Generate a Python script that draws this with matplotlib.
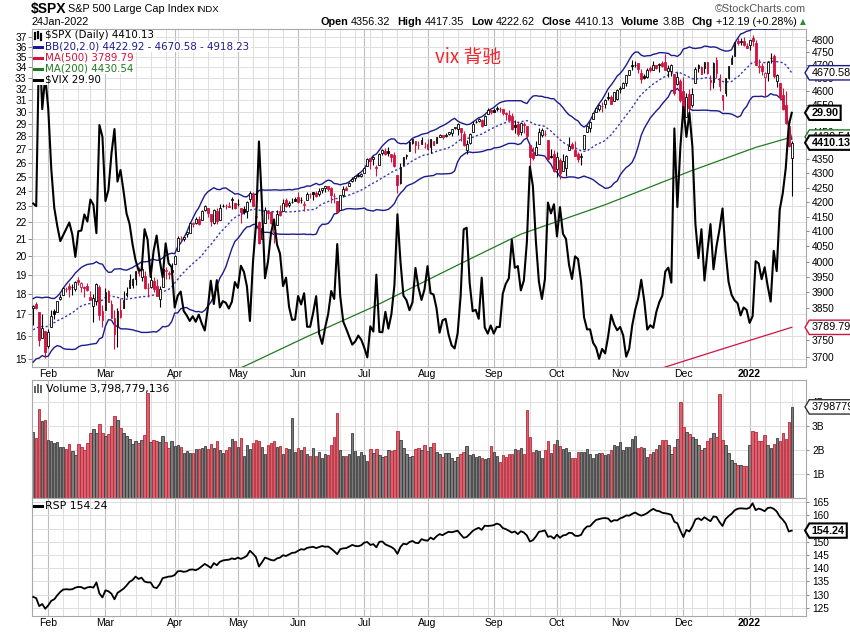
import numpy as np
import pandas as pd
import matplotlib
matplotlib.use("Agg")
import matplotlib.pyplot as plt
from matplotlib.path import Path
from matplotlib.lines import Line2D
from matplotlib.patches import Rectangle
from matplotlib.ticker import FixedLocator, FixedFormatter, NullLocator

W, H = 850, 633
RED = '#d3123e'
NAVY = '#1b1b8f'
GREEN = '#217a21'
GRID = '#dedede'
MONTH_GRID = '#bdbdbd'
ARIAL = 'Liberation Sans'

# trading days 25 Jan 2021 .. 24 Jan 2022
HOLIDAYS = ['2021-02-15', '2021-04-02', '2021-05-31', '2021-07-05',
            '2021-09-06', '2021-11-25', '2021-12-24', '2022-01-17']

# 19 closes before the window, BB(20) needs them
spx_close_prior = [3703.06, 3735.36, 3727.04, 3732.04, 3756.07, 3700.65, 3726.86, 3748.14, 3803.79, 3824.68,
                   3799.61, 3801.19, 3809.84, 3795.54, 3768.25, 3798.91, 3851.85, 3853.07, 3841.47]

spx_open = [
    3851.68, 3862.96, 3836.83, 3755.75, 3778.05,
    3731.17, 3791.84, 3840.27, 3836.66, 3878.30, 3892.59, 3910.49, 3920.78, 3916.40, 3911.65, 3939.61, 3918.50, 3915.86, 3921.16, 3885.55, 3857.07, 3873.71, 3915.80, 3839.66,
    3842.51, 3903.64, 3863.99, 3818.53, 3793.58, 3844.39, 3851.93, 3891.99, 3915.54, 3924.52, 3942.96, 3973.59, 3949.57, 3953.50, 3913.14, 3916.48, 3937.60, 3919.93, 3879.34, 3917.12, 3969.31, 3963.34, 3967.25,
    3992.78, 4034.44, 4075.57, 4074.29, 4089.95, 4096.11, 4124.71, 4130.10, 4141.58, 4139.76, 4174.14, 4179.80, 4159.18, 4128.42, 4170.46, 4138.78, 4185.03, 4188.25, 4185.14, 4206.14, 4198.10,
    4191.98, 4179.04, 4177.06, 4169.14, 4210.34, 4228.29, 4150.34, 4130.55, 4074.99, 4129.58, 4169.92, 4165.94, 4098.45, 4121.97, 4168.61, 4170.16, 4205.94, 4191.59, 4201.94, 4210.77,
    4216.52, 4206.82, 4191.43, 4206.05, 4229.34, 4233.81, 4232.99, 4228.56, 4242.90, 4248.31, 4255.28, 4248.87, 4220.37, 4204.78, 4173.40, 4224.61, 4249.27, 4256.97, 4274.45, 4284.90, 4293.21, 4290.65,
    4300.73, 4326.60, 4356.46, 4351.01, 4321.07, 4329.38, 4372.41, 4381.07, 4380.11, 4369.02, 4367.43, 4296.40, 4265.11, 4331.13, 4361.27, 4381.20, 4409.58, 4416.38, 4402.95, 4403.59, 4395.12,
    4406.86, 4392.74, 4415.95, 4408.86, 4429.07, 4437.77, 4435.79, 4442.18, 4446.08, 4464.84, 4461.65, 4462.12, 4440.94, 4382.44, 4410.56, 4450.29, 4484.40, 4490.45, 4493.75, 4474.10, 4513.76, 4529.75,
    4528.80, 4534.48, 4532.42, 4535.38, 4518.09, 4513.02, 4506.92, 4474.81, 4479.33, 4447.49, 4477.09, 4469.74, 4402.95, 4374.45, 4367.43, 4406.75, 4438.04, 4442.12, 4419.54, 4362.41, 4370.67,
    4317.16, 4348.84, 4309.87, 4319.57, 4383.73, 4406.51, 4385.44, 4368.31, 4358.01, 4386.75, 4447.69, 4463.72, 4497.34, 4524.42, 4532.24, 4546.12, 4553.69, 4578.69, 4580.22, 4562.84, 4572.87,
    4610.62, 4613.34, 4630.65, 4662.93, 4699.26, 4701.48, 4707.25, 4670.26, 4659.39, 4655.24, 4689.30, 4679.42, 4701.50, 4700.72, 4708.44, 4712.00, 4678.48, 4675.78, 4664.63, 4628.75, 4640.25,
    4602.82, 4504.73, 4589.49, 4548.37, 4631.97, 4690.86, 4691.00, 4687.64, 4710.30, 4642.99, 4636.46, 4719.13, 4652.50, 4587.90, 4594.96, 4650.36, 4703.96, 4733.99, 4795.49, 4788.64, 4794.23, 4775.21,
    4778.14, 4804.51, 4787.99, 4693.39, 4697.66, 4655.34, 4669.14, 4728.59, 4733.56, 4637.99, 4632.24, 4588.03, 4547.35, 4471.38, 4356.32,
]
spx_high = [
    3859.23, 3870.90, 3836.83, 3830.50, 3778.05,
    3784.32, 3843.09, 3847.51, 3872.42, 3894.56, 3915.77, 3918.35, 3931.50, 3925.99, 3937.23, 3950.43, 3933.61, 3921.98, 3930.41, 3902.92, 3895.98, 3928.65, 3925.02, 3861.08,
    3914.50, 3906.41, 3874.47, 3843.67, 3851.69, 3881.06, 3903.76, 3917.35, 3960.27, 3944.99, 3970.08, 3981.04, 3983.87, 3969.62, 3930.12, 3955.31, 3949.13, 3942.08, 3919.54, 3978.19, 3981.83, 3968.01, 3994.41,
    4020.63, 4083.42, 4086.23, 4083.13, 4098.19, 4129.48, 4131.76, 4148.00, 4151.69, 4173.49, 4191.31, 4180.81, 4159.18, 4175.02, 4179.57, 4194.17, 4194.19, 4193.35, 4201.53, 4218.78, 4198.10,
    4209.39, 4179.04, 4187.72, 4202.70, 4238.04, 4236.39, 4162.04, 4134.73, 4131.58, 4183.13, 4171.92, 4169.15, 4116.93, 4172.80, 4188.72, 4209.52, 4213.42, 4202.61, 4213.38, 4218.36,
    4234.12, 4217.37, 4204.39, 4233.45, 4232.34, 4236.74, 4237.09, 4249.74, 4248.38, 4255.59, 4257.16, 4251.89, 4232.29, 4204.78, 4226.24, 4255.84, 4256.60, 4271.28, 4286.12, 4292.14, 4300.52, 4302.43,
    4320.66, 4355.43, 4356.46, 4361.88, 4330.88, 4371.60, 4386.68, 4392.37, 4393.68, 4369.02, 4375.09, 4296.40, 4336.84, 4359.70, 4369.87, 4415.18, 4422.73, 4416.38, 4415.47, 4429.97, 4412.25,
    4422.18, 4423.79, 4416.17, 4429.76, 4440.82, 4439.39, 4445.21, 4449.44, 4461.77, 4468.37, 4480.26, 4462.12, 4454.32, 4418.61, 4444.35, 4489.88, 4492.81, 4501.71, 4495.90, 4513.33, 4537.36, 4531.39,
    4537.11, 4545.85, 4541.45, 4535.38, 4521.79, 4529.90, 4520.47, 4492.99, 4485.68, 4486.87, 4485.87, 4471.52, 4402.95, 4394.87, 4416.75, 4465.40, 4463.12, 4457.30, 4419.54, 4385.57, 4382.55,
    4375.19, 4355.51, 4369.23, 4365.57, 4429.97, 4412.02, 4415.88, 4374.89, 4372.87, 4439.73, 4475.82, 4488.75, 4520.40, 4540.87, 4551.44, 4559.67, 4572.62, 4598.53, 4584.57, 4597.55, 4608.08,
    4620.34, 4635.15, 4663.46, 4683.00, 4718.50, 4714.92, 4708.53, 4684.85, 4664.55, 4688.47, 4697.42, 4714.95, 4701.50, 4708.80, 4717.75, 4743.83, 4699.39, 4702.87, 4664.63, 4672.95, 4646.02,
    4652.94, 4595.46, 4608.03, 4612.60, 4694.04, 4705.06, 4695.26, 4713.57, 4710.30, 4660.47, 4712.60, 4731.99, 4666.70, 4587.90, 4651.14, 4697.67, 4740.74, 4791.49, 4807.02, 4804.06, 4808.93, 4786.83,
    4796.64, 4818.62, 4797.70, 4725.01, 4707.95, 4673.02, 4714.13, 4748.83, 4744.13, 4665.13, 4632.24, 4611.55, 4602.11, 4494.52, 4417.35,
]
spx_low = [
    3797.16, 3847.78, 3732.48, 3755.75, 3694.12,
    3725.62, 3791.84, 3816.68, 3836.66, 3874.93, 3892.59, 3902.64, 3884.94, 3890.39, 3905.78, 3923.85, 3900.43, 3885.03, 3903.07, 3874.71, 3805.59, 3859.60, 3814.04, 3789.54,
    3842.51, 3868.57, 3818.86, 3723.34, 3730.19, 3819.25, 3851.93, 3885.73, 3915.54, 3915.21, 3923.54, 3953.44, 3935.74, 3910.86, 3886.75, 3914.16, 3901.57, 3888.85, 3853.50, 3917.12, 3943.25, 3944.35, 3966.98,
    3992.78, 4034.44, 4068.14, 4068.31, 4082.54, 4095.51, 4114.82, 4124.43, 4120.87, 4139.76, 4170.75, 4150.47, 4118.38, 4126.35, 4123.69, 4138.78, 4182.36, 4176.22, 4181.78, 4176.81, 4174.85,
    4188.03, 4128.59, 4160.94, 4147.33, 4201.64, 4188.13, 4111.53, 4056.88, 4074.99, 4129.58, 4142.69, 4125.99, 4061.41, 4121.97, 4151.72, 4170.16, 4182.52, 4184.11, 4197.78, 4203.57,
    4197.59, 4198.27, 4167.93, 4206.05, 4215.66, 4208.41, 4218.74, 4220.34, 4232.25, 4234.07, 4238.35, 4195.99, 4196.05, 4164.40, 4173.40, 4217.27, 4241.43, 4256.97, 4271.16, 4274.67, 4287.04, 4287.96,
    4300.73, 4326.60, 4314.37, 4329.79, 4289.37, 4329.38, 4364.03, 4366.92, 4362.36, 4340.70, 4322.53, 4233.13, 4262.05, 4331.13, 4350.06, 4381.20, 4405.45, 4372.51, 4387.01, 4403.59, 4389.65,
    4384.81, 4373.00, 4400.23, 4408.86, 4429.07, 4424.74, 4430.03, 4436.42, 4435.96, 4460.82, 4437.66, 4417.83, 4397.59, 4367.73, 4406.80, 4450.29, 4482.28, 4485.66, 4468.99, 4474.10, 4513.76, 4515.80,
    4522.02, 4524.66, 4521.94, 4513.00, 4493.95, 4492.07, 4457.66, 4445.70, 4435.46, 4438.37, 4443.80, 4427.76, 4305.91, 4347.96, 4367.43, 4406.75, 4430.27, 4436.19, 4346.33, 4355.08, 4306.24,
    4288.52, 4278.94, 4309.87, 4290.49, 4383.73, 4386.22, 4360.59, 4342.09, 4329.92, 4386.75, 4447.69, 4447.47, 4496.41, 4524.40, 4526.89, 4524.00, 4537.36, 4569.17, 4551.66, 4562.84, 4567.59,
    4595.06, 4613.34, 4621.19, 4662.59, 4681.32, 4694.39, 4670.87, 4630.86, 4648.31, 4650.77, 4672.86, 4679.42, 4684.41, 4672.78, 4694.22, 4682.17, 4652.66, 4659.89, 4585.43, 4625.26, 4560.00,
    4510.27, 4504.73, 4495.12, 4540.51, 4631.97, 4674.52, 4665.98, 4670.24, 4667.60, 4606.52, 4611.22, 4651.89, 4600.22, 4531.10, 4583.16, 4645.53, 4703.96, 4733.99, 4780.04, 4778.08, 4775.33, 4765.75,
    4758.17, 4774.27, 4699.44, 4671.26, 4662.74, 4582.24, 4638.27, 4706.71, 4650.29, 4614.75, 4568.70, 4530.20, 4477.95, 4395.34, 4222.62,
]
spx_close = [
    3855.36, 3849.62, 3750.77, 3787.38, 3714.24,
    3773.86, 3826.31, 3830.17, 3871.74, 3886.83, 3915.59, 3911.23, 3909.88, 3916.38, 3934.83, 3932.59, 3931.33, 3913.97, 3906.71, 3876.50, 3881.37, 3925.43, 3829.34, 3811.15,
    3901.82, 3870.29, 3819.72, 3768.47, 3841.94, 3821.35, 3875.44, 3898.81, 3939.34, 3943.34, 3968.94, 3962.71, 3974.12, 3915.46, 3913.10, 3940.59, 3910.52, 3889.14, 3909.52, 3974.54, 3971.09, 3958.55, 3972.89,
    4019.87, 4077.91, 4073.94, 4079.95, 4097.17, 4128.80, 4127.99, 4141.59, 4124.66, 4170.42, 4185.47, 4163.26, 4134.94, 4173.42, 4134.98, 4180.17, 4187.62, 4186.72, 4183.18, 4211.47, 4181.17,
    4192.66, 4164.66, 4167.59, 4201.62, 4232.60, 4188.43, 4152.10, 4063.04, 4112.50, 4173.85, 4163.29, 4127.83, 4115.68, 4159.12, 4155.86, 4197.05, 4188.13, 4195.99, 4200.88, 4204.11,
    4202.04, 4208.12, 4192.85, 4229.89, 4226.52, 4227.26, 4219.55, 4239.18, 4247.44, 4255.15, 4246.59, 4223.70, 4221.86, 4166.45, 4224.79, 4246.44, 4241.84, 4266.49, 4280.70, 4290.61, 4291.80, 4297.50,
    4319.94, 4352.34, 4343.54, 4358.13, 4320.82, 4369.55, 4384.63, 4369.21, 4374.30, 4360.03, 4327.16, 4258.49, 4323.06, 4358.69, 4367.48, 4411.79, 4422.30, 4401.46, 4400.64, 4419.15, 4395.26,
    4387.16, 4423.15, 4402.66, 4429.10, 4436.52, 4432.35, 4436.75, 4447.70, 4460.83, 4468.00, 4479.71, 4448.08, 4400.27, 4405.80, 4441.67, 4479.53, 4486.23, 4496.19, 4470.00, 4509.37, 4528.79, 4522.68,
    4524.09, 4536.95, 4535.43, 4520.03, 4514.07, 4493.28, 4458.58, 4468.73, 4443.05, 4480.70, 4473.75, 4432.99, 4357.73, 4354.19, 4395.64, 4448.98, 4455.48, 4443.11, 4352.63, 4359.46, 4307.54,
    4357.04, 4300.46, 4345.72, 4363.55, 4399.76, 4391.34, 4361.19, 4350.65, 4363.80, 4438.26, 4471.37, 4486.46, 4519.63, 4536.19, 4549.78, 4544.90, 4566.48, 4574.79, 4551.68, 4596.42, 4605.38,
    4613.67, 4630.65, 4660.57, 4680.06, 4697.53, 4701.70, 4685.25, 4646.71, 4649.27, 4682.85, 4682.80, 4700.90, 4688.67, 4704.54, 4697.96, 4682.94, 4690.70, 4701.46, 4594.62, 4655.27, 4567.00,
    4513.04, 4577.10, 4538.43, 4591.67, 4686.75, 4701.21, 4667.45, 4712.02, 4668.97, 4634.09, 4709.85, 4668.67, 4620.64, 4568.02, 4649.23, 4696.56, 4725.79, 4791.19, 4786.35, 4793.06, 4778.73, 4766.18,
    4796.56, 4793.54, 4700.58, 4696.05, 4677.03, 4670.29, 4713.07, 4726.35, 4659.03, 4662.85, 4577.11, 4532.76, 4482.73, 4397.94, 4410.13,
]

vix_close = [
    23.19, 23.02, 37.21, 30.21, 33.09,
    30.24, 25.56, 22.91, 21.77, 20.87, 21.24, 21.63, 21.99, 21.25, 19.97, 21.46, 21.50, 22.49, 22.05, 23.45, 23.11, 21.34, 28.89, 27.95,
    23.35, 24.10, 26.67, 28.57, 24.66, 25.47, 24.03, 22.56, 21.91, 20.69, 19.79, 19.23, 19.23, 21.58, 20.95, 18.88, 20.30, 21.20, 19.81, 18.86, 20.74, 19.61, 19.40,
    17.33, 17.91, 18.12, 17.16, 16.95, 16.69, 16.91, 16.65, 16.99, 16.57, 16.25, 17.29, 18.68, 17.50, 18.71, 17.33, 17.64, 17.56, 17.28, 17.61, 18.61,
    18.31, 19.48, 19.15, 18.39, 16.69, 19.66, 21.84, 27.59, 23.13, 18.81, 19.72, 21.34, 22.18, 20.67, 20.15, 18.40, 18.84, 17.36, 16.74, 16.76,
    17.90, 17.48, 18.04, 16.42, 16.42, 17.07, 17.89, 16.10, 15.65, 16.39, 17.02, 18.15, 17.75, 20.70, 17.89, 16.66, 16.32, 15.97, 15.62, 15.76, 16.02, 15.83,
    15.48, 15.07, 16.44, 16.20, 19.00, 16.18, 16.17, 17.12, 16.33, 17.01, 18.45, 22.50, 19.73, 17.91, 17.69, 17.20, 17.58, 19.36, 18.31, 17.70, 18.24,
    19.46, 18.04, 17.97, 17.28, 16.15, 16.72, 16.79, 16.06, 15.59, 15.45, 16.12, 17.91, 21.57, 21.67, 18.56, 17.15, 17.22, 16.79, 18.84, 16.39, 16.11, 16.48,
    16.11, 16.41, 16.41, 18.02, 18.52, 18.80, 20.95, 19.37, 19.46, 18.18, 18.69, 20.81, 25.71, 24.36, 20.87, 18.63, 17.75, 18.76, 23.25, 22.56, 23.14,
    21.15, 22.96, 21.30, 21.00, 19.54, 18.77, 20.00, 19.85, 18.64, 16.86, 16.30, 16.30, 15.70, 15.49, 15.01, 15.43, 15.24, 15.98, 16.98, 16.53, 16.26,
    16.41, 16.03, 15.10, 15.44, 16.48, 17.22, 17.78, 18.73, 17.66, 16.29, 16.49, 16.37, 17.11, 17.59, 17.91, 19.17, 19.38, 18.58, 28.62, 22.96, 27.19,
    30.40, 27.95, 29.90, 27.18, 21.89, 19.90, 21.58, 18.69, 20.31, 21.89, 19.29, 20.57, 21.57, 22.87, 20.31, 18.63, 17.96, 17.68, 17.54, 16.95, 17.33, 17.22,
    16.60, 16.91, 19.73, 19.61, 18.76, 19.40, 18.41, 17.62, 20.31, 19.19, 22.79, 23.85, 25.59, 28.85, 29.90,
]

# volume in billions of shares
spx_volume = [
    2.75, 2.50, 3.70, 3.20, 3.26,
    2.42, 2.37, 2.30, 2.33, 2.12, 2.12, 2.05, 2.25, 1.96, 1.79, 2.25, 2.12, 2.00, 2.28, 2.70, 2.87, 2.73, 3.08, 2.70,
    2.58, 2.66, 3.00, 3.41, 3.25, 2.93, 2.72, 2.58, 2.46, 2.25, 2.37, 2.30, 2.40, 2.62, 4.37, 2.33, 2.43, 2.36, 2.32, 2.57, 2.33, 2.08, 2.36,
    2.15, 2.19, 2.11, 1.88, 1.94, 1.86, 1.86, 2.03, 2.04, 2.08, 2.15, 2.04, 2.24, 2.07, 2.36, 1.99, 1.89, 2.00, 2.11, 2.44, 2.36,
    2.14, 2.49, 1.74, 2.19, 2.04, 2.28, 2.40, 2.36, 2.13, 1.85, 2.19, 2.28, 2.36, 2.11, 2.15, 1.82, 2.07, 2.03, 3.32, 1.90,
    2.07, 1.99, 2.11, 1.82, 1.74, 2.07, 1.74, 1.90, 1.67, 1.82, 1.78, 2.19, 2.53, 3.53, 2.00, 1.74, 1.74, 1.82, 2.69, 1.94, 1.76, 1.90,
    1.79, 1.53, 2.04, 1.89, 2.04, 1.78, 1.69, 1.74, 2.00, 1.96, 2.00, 2.78, 2.40, 2.07, 1.82, 1.72, 1.76, 2.04, 2.07, 1.99, 2.19,
    1.96, 2.11, 2.28, 1.90, 1.82, 1.69, 1.86, 1.86, 1.65, 1.53, 1.72, 1.85, 1.90, 2.15, 1.78, 1.82, 1.69, 1.74, 1.65, 1.61, 1.65, 2.15,
    1.90, 1.74, 1.49, 1.78, 1.72, 1.82, 1.82, 2.03, 1.99, 2.07, 1.82, 3.65, 2.53, 1.90, 1.99, 1.96, 1.65, 1.99, 2.36, 1.86, 2.24,
    2.40, 2.15, 2.03, 2.07, 1.90, 1.65, 1.65, 1.90, 1.90, 1.90, 2.03, 1.82, 1.65, 1.82, 1.86, 1.86, 1.79, 1.82, 2.00, 2.19, 2.17,
    2.33, 2.00, 2.11, 2.11, 2.44, 2.58, 2.07, 2.11, 2.07, 1.72, 1.82, 1.92, 2.03, 2.19, 2.42, 2.42, 2.21, 1.82, 2.11, 2.46, 4.00,
    2.97, 2.75, 2.67, 2.53, 2.44, 2.21, 2.00, 2.07, 2.39, 2.49, 2.69, 2.55, 4.33, 2.42, 2.21, 1.86, 1.58, 1.47, 1.38, 1.36, 1.33, 1.33,
    2.21, 2.79, 2.74, 2.38, 2.38, 2.63, 2.21, 2.07, 2.24, 2.49, 2.38, 2.69, 2.46, 3.17, 3.798779136,
]

rsp_close = [
    129.1, 128.6, 125.6, 126.4, 124.6,
    125.9, 127.6, 128.2, 129.7, 131.0, 131.9, 132.0, 131.9, 132.0, 132.6, 132.9, 132.8, 132.2, 132.7, 132.9, 132.6, 134.6, 130.4, 128.9,
    131.6, 131.2, 130.3, 128.2, 130.6, 131.4, 132.2, 133.4, 134.8, 135.5, 136.8, 135.9, 136.4, 134.9, 134.6, 134.6, 132.8, 132.4, 133.9, 136.2, 136.5, 136.8, 136.9,
    137.4, 138.8, 138.9, 138.6, 138.8, 139.4, 139.5, 139.2, 139.8, 140.7, 141.6, 140.9, 140.1, 141.9, 141.1, 142.4, 142.9, 143.1, 143.2, 143.7, 143.4,
    144.0, 143.5, 144.0, 144.7, 146.6, 145.5, 144.2, 140.6, 142.2, 144.0, 143.6, 143.1, 142.9, 143.7, 144.0, 144.9, 144.6, 145.2, 145.8, 145.9,
    146.6, 147.2, 147.0, 147.7, 147.9, 148.1, 147.6, 148.0, 148.4, 148.1, 148.2, 147.4, 146.4, 145.3, 147.2, 147.5, 147.6, 148.2, 148.8, 148.4, 148.3, 148.7,
    149.7, 149.9, 148.8, 149.1, 147.9, 150.0, 150.1, 149.0, 148.5, 148.0, 147.2, 145.4, 148.0, 149.3, 149.0, 149.9, 150.3, 149.6, 149.5, 151.0, 150.6,
    150.4, 151.6, 150.9, 152.1, 152.9, 152.5, 153.2, 153.8, 153.6, 153.9, 154.2, 152.8, 151.5, 151.8, 152.9, 154.1, 154.8, 155.3, 154.5, 156.1, 156.0, 156.1,
    156.3, 156.9, 156.5, 155.2, 154.8, 154.2, 153.5, 153.9, 152.9, 154.0, 153.5, 152.4, 150.1, 150.6, 152.0, 153.8, 154.0, 154.3, 151.9, 152.1, 151.2,
    152.7, 151.5, 152.4, 152.6, 153.4, 153.3, 152.3, 152.2, 152.6, 154.7, 155.8, 155.9, 157.2, 158.3, 158.6, 158.9, 159.0, 158.8, 157.6, 158.2, 158.1,
    158.9, 159.3, 160.0, 159.9, 160.6, 161.1, 160.4, 159.9, 160.3, 160.9, 161.8, 162.5, 161.8, 161.6, 161.0, 160.8, 160.6, 160.2, 157.6, 157.0, 154.2,
    151.8, 154.5, 153.9, 155.8, 158.5, 158.9, 158.2, 159.3, 158.5, 157.8, 159.6, 159.4, 157.5, 156.0, 158.6, 159.7, 160.6, 161.9, 162.5, 162.7, 162.6, 162.5,
    162.9, 164.6, 162.0, 162.6, 162.2, 161.6, 162.8, 163.0, 162.5, 161.5, 159.6, 158.4, 156.9, 153.9, 154.24,
]

# moving averages at a few sessions (index into the window)
ma200_idx = [60, 71, 91, 113, 145, 162, 190, 218, 240, 252]
ma200_val = [3630, 3674, 3761, 3854, 4008, 4091, 4191, 4307, 4393, 4430.54]
ma500_idx = [205, 231, 252]
ma500_val = [3654, 3729, 3789.79]

month_names = ['Feb', 'Mar', 'Apr', 'May', 'Jun', 'Jul', 'Aug', 'Sep', 'Oct', 'Nov', 'Dec', '2022']

# axis labels that sit fully under a value tag are left out
px_ticks = [t for t in range(3700, 4801, 50) if t not in (3800, 4400, 4500)]
rsp_ticks = [t for t in range(125, 166, 5) if t != 155]


def fx(px):
    return px / W


def fy(py):
    return 1 - py / H


def tag_shape(x0, y0, width, height, mutation_size):
    pad = 0.2 * mutation_size
    x0, y0 = x0 - pad, y0 - pad
    x1, y1 = x0 + width + 2 * pad, y0 + height + 2 * pad
    half = (y1 - y0) / 2
    verts = [(x0, y0), (x1, y0), (x1, y1), (x0, y1), (x0 - half * 0.6, y0 + half), (x0, y0)]
    codes = [Path.MOVETO] + [Path.LINETO] * 4 + [Path.CLOSEPOLY]
    return Path(verts, codes)


def tag(ax, value, text, color, bold=False):
    ax.annotate(text, xy=(1, value), xycoords=('axes fraction', 'data'),
                xytext=(5, 0), textcoords='offset pixels', ha='left', va='center',
                fontsize=7.8, family=ARIAL, color='black', fontweight='bold' if bold else 'normal',
                annotation_clip=False, zorder=20,
                bbox=dict(boxstyle=tag_shape, fc='white', ec=color, lw=1.5 if bold else 1.0))


dates = pd.bdate_range('2021-01-25', '2022-01-24')
dates = dates[~dates.isin(pd.to_datetime(HOLIDAYS))]
n = len(dates)
x = np.arange(n)

o = np.array(spx_open)
hi = np.array(spx_high)
lo = np.array(spx_low)
c = np.array(spx_close)
prev_c = np.concatenate([[spx_close_prior[-1]], c[:-1]])
down = c < prev_c

closes_all = pd.Series(spx_close_prior + spx_close)
bb_mid = closes_all.rolling(20).mean().to_numpy()[-n:]
bb_sd = closes_all.rolling(20).std(ddof=0).to_numpy()[-n:]
bb_up = bb_mid + 2 * bb_sd
bb_lo = bb_mid - 2 * bb_sd

month_idx = [i for i in range(1, n) if dates[i].month != dates[i - 1].month]
week_idx = [i for i in range(1, n) if dates[i].weekday() < dates[i - 1].weekday()]

plt.rcParams['font.family'] = 'DejaVu Sans'
fig = plt.figure(figsize=(8.5, 6.33), dpi=100)
L, R = 32, 806.5


def rect(top, bottom):
    return [fx(L), fy(bottom), (R - L) / W, (bottom - top) / H]


ax_v = fig.add_axes(rect(29, 366.5))
ax_p = ax_v.twinx()
ax_top = fig.add_axes(rect(29, 366.5), sharex=ax_v, sharey=ax_v)
ax_vol = fig.add_axes(rect(380, 498), sharex=ax_v)
ax_rsp = fig.add_axes(rect(498, 616), sharex=ax_v)

ax_v.set_xlim(-0.4, 256.9)

tick_style = dict(length=2, width=0.7, color='#888888', pad=2, labelsize=7.3)

for ax in (ax_v, ax_vol, ax_rsp):
    for sp in ax.spines.values():
        sp.set_color('#a8a8a8')
        sp.set_linewidth(0.8)
    ax.tick_params(axis='x', bottom=False, labelbottom=False)
    for i in week_idx:
        ax.axvline(i, color=GRID, lw=0.7, zorder=0)
    for i in month_idx:
        ax.axvline(i, color=MONTH_GRID, lw=0.8, zorder=0)
for sp in ax_p.spines.values():
    sp.set_visible(False)

# VIX scale (left) with the horizontal grid
ax_v.set_yscale('log')
ax_v.set_ylim(14.69, 37.81)
vix_ticks = list(range(15, 38))
ax_v.yaxis.set_major_locator(FixedLocator(vix_ticks))
ax_v.yaxis.set_major_formatter(FixedFormatter([str(t) for t in vix_ticks]))
ax_v.yaxis.set_minor_locator(NullLocator())
ax_v.tick_params(axis='y', which='both', left=True, labelleft=True, right=False, labelright=False,
                 length=3, width=0.7, color='#888888', pad=1, labelsize=7.3)
ax_v.yaxis.grid(True, color=GRID, lw=0.7)
ax_v.set_axisbelow(True)

# price scale (right)
ax_p.set_yscale('log')
ax_p.set_ylim(3669.8, 4841.6)
ax_p.yaxis.set_major_locator(FixedLocator(px_ticks))
ax_p.yaxis.set_major_formatter(FixedFormatter([str(t) for t in px_ticks]))
ax_p.yaxis.set_minor_locator(NullLocator())
ax_p.yaxis.set_minor_formatter(FixedFormatter([]))
ax_p.tick_params(axis='y', which='both', right=True, labelright=True, **tick_style)

# bollinger bands and moving averages
ax_p.plot(x, bb_up, color=NAVY, lw=1.0, zorder=2)
ax_p.plot(x, bb_lo, color=NAVY, lw=1.0, zorder=2)
ax_p.plot(x, bb_mid, color='#3a3ab8', lw=1.0, ls=(0, (1.6, 1.6)), zorder=2)
ax_p.plot(ma200_idx, ma200_val, color=GREEN, lw=0.9, zorder=2)
ax_p.plot(ma500_idx, ma500_val, color=RED, lw=0.9, zorder=2)

# candles
cols = np.where(down, RED, 'black')
fills = np.where(c > o, 'white', cols)
ax_p.vlines(x, lo, hi, colors=cols, lw=0.8, zorder=3)
body_lo = np.minimum(o, c)
body_h = np.maximum(np.abs(c - o), 0.8)
ax_p.bar(x, body_h, bottom=body_lo, width=0.62, color=fills, edgecolor=cols, linewidth=0.6, zorder=4)

# VIX line on top
ax_top.set_axis_off()
ax_top.plot(x, vix_close, color='black', lw=1.5, zorder=5)

# volume panel
vol_fill = np.where(down, '#d8636f', '#7c7c7c')
vol_edge = np.where(down, '#b9283b', '#3c3c3c')
ax_vol.bar(x, spx_volume, width=0.78, color=vol_fill, edgecolor=vol_edge, linewidth=0.6, zorder=2)
ax_vol.set_ylim(0, 4.92)
ax_vol.yaxis.set_major_locator(FixedLocator([1, 2, 3, 4]))
ax_vol.yaxis.set_major_formatter(FixedFormatter(['1B', '2B', '3B', '4B']))
ax_vol.tick_params(axis='y', left=False, labelleft=False, right=True, labelright=True, **tick_style)
ax_vol.yaxis.grid(True, color=GRID, lw=0.7)
ax_vol.set_axisbelow(True)

# RSP panel
ax_rsp.plot(x, rsp_close, color='black', lw=1.3, zorder=3)
ax_rsp.set_ylim(121.85, 166.6)
ax_rsp.yaxis.set_major_locator(FixedLocator(rsp_ticks))
ax_rsp.yaxis.set_major_formatter(FixedFormatter([str(t) for t in rsp_ticks]))
ax_rsp.tick_params(axis='y', left=False, labelleft=False, right=True, labelright=True, **tick_style)
ax_rsp.yaxis.grid(True, color=GRID, lw=0.7)
ax_rsp.set_axisbelow(True)
for t in range(125, 166, 5):
    if t not in rsp_ticks:
        ax_rsp.axhline(t, color=GRID, lw=0.7, zorder=0)

for ax in (ax_v, ax_p, ax_vol, ax_rsp):
    for lab in ax.get_yticklabels():
        lab.set_family(ARIAL)

# month labels under the price panel and the RSP panel
for ax in (ax_v, ax_rsp):
    for i, name in zip(month_idx, month_names):
        ax.annotate(name, xy=(i, 0), xycoords=ax.get_xaxis_transform(), xytext=(0, -1.5),
                    textcoords='offset points', ha='center', va='top', fontsize=7.5, family=ARIAL,
                    fontweight='bold' if name == '2022' else 'normal', annotation_clip=False)

# value tags on the right edge
tag(ax_p, 4670.58, '4670.58', NAVY)
tag(ax_p, 3789.79, '3789.79', RED)
tag(ax_p, 4430.54, '4430.54', GREEN)
tag(ax_top, 29.90, '29.90', 'black', bold=True)
tag(ax_p, 4410.13, '4410.13', 'black', bold=True)
tag(ax_vol, 3.798779136, '3798779136', '#333333')
tag(ax_rsp, 154.24, '154.24', 'black', bold=True)

renderer = fig.canvas.get_renderer()

# legend block in the price panel
legend = [('$SPX (Daily) 4410.13', 'black'),
          ('BB(20,2.0) 4422.92 - 4670.58 - 4918.23', NAVY),
          ('MA(500) 3789.79', RED),
          ('MA(200) 4430.54', GREEN),
          ('$VIX 29.90', 'black')]
for k, (txt, color) in enumerate(legend):
    ypx = 35.5 + 11 * k
    t = fig.text(fx(45), fy(ypx), txt, color=color, fontsize=7.4, va='center', ha='left', zorder=6)
    bb = t.get_window_extent(renderer)
    fig.add_artist(Rectangle((fx(33), fy(ypx + 5.5)), (bb.x1 + 2 - 33) / W, 11 / H,
                             transform=fig.transFigure, facecolor='white', edgecolor='none', zorder=4))
    if k == 0:
        for dx, top, bot in [(35, -3, 3), (38, -4, 2), (41, -2, 4)]:
            fig.add_artist(Line2D([fx(dx), fx(dx)], [fy(ypx + top), fy(ypx + bot)], color='black',
                                  lw=1.6, transform=fig.transFigure, zorder=6))
    else:
        fig.add_artist(Line2D([fx(34), fx(42)], [fy(ypx), fy(ypx)], color=color, lw=2.2,
                              transform=fig.transFigure, zorder=6))

# volume and RSP labels
for dx, top in [(35, -2), (38, -4), (41, -3)]:
    fig.add_artist(Rectangle((fx(dx - 1), fy(393)), 2 / W, (393 - 388 - top) / H,
                             transform=fig.transFigure, facecolor='#666666', edgecolor='none', zorder=6))
fig.text(fx(46), fy(389), 'Volume 3,798,779,136', fontsize=7.8, va='center', ha='left', zorder=6)
fig.add_artist(Line2D([fx(34), fx(42)], [fy(506), fy(506)], color='black', lw=2.2,
                      transform=fig.transFigure, zorder=6))
fig.text(fx(45), fy(506), 'RSP 154.24', fontsize=7.8, va='center', ha='left', zorder=6)

# header
fig.text(fx(31), fy(9), '$SPX', fontsize=10, fontweight='bold', family=ARIAL, va='center')
fig.text(fx(68), fy(9), 'S&P 500 Large Cap Index', fontsize=7.8, family=ARIAL, va='center')
fig.text(fx(196), fy(9), 'INDX', fontsize=6.8, family=ARIAL, va='center')
fig.text(fx(31), fy(22), '24Jan-2022', fontsize=7.8, family=ARIAL, va='center')
fig.text(fx(806), fy(9), '\u00a9StockCharts.com', fontsize=7.8, family=ARIAL, color='#555555',
         va='center', ha='right')

# quote line, right aligned so that it ends before the arrow
pieces = [('Open', True, 0), ('4356.32', False, 3), ('High', True, 7), ('4417.35', False, 3),
          ('Low', True, 7), ('4222.62', False, 3), ('Close', True, 7), ('4410.13', False, 3),
          ('Volume', True, 7), ('3.8B', False, 3), ('Chg', True, 7), ('+12.19 (+0.28%)', False, 3)]
quote = []
for s, bold, gap in pieces:
    t = fig.text(0, fy(22), s, fontsize=7.8, family=ARIAL, fontweight='bold' if bold else 'normal',
                 va='center', ha='left')
    quote.append((t, gap, t.get_window_extent(renderer).width))
xpos = 797 - sum(g + w for _, g, w in quote)
for t, gap, w in quote:
    xpos += gap
    t.set_x(fx(xpos))
    xpos += w
fig.text(fx(800), fy(22), '\u25b2', fontsize=5.5, color='#2e8b2e', va='center', ha='left')

fig.text(fx(435), fy(57), 'vix 背驰', fontsize=13.5, color='#f0282d', va='center', ha='left',
         family=['Noto Sans CJK SC', 'DejaVu Sans'])

fig.savefig('out.png', dpi=100)
